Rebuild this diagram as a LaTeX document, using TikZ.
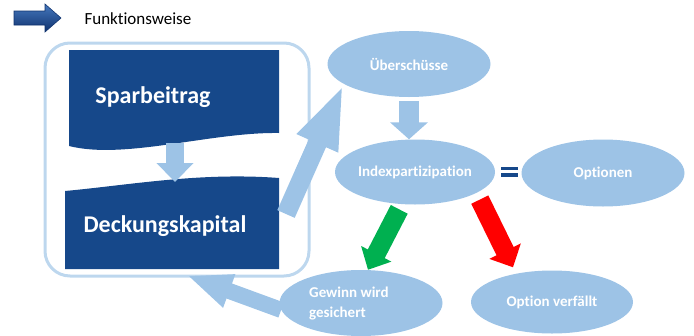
\documentclass[tikz,border=0pt]{standalone}
\usepackage{fontspec}
\setmainfont{Carlito}[Ligatures=NoCommon]
\usetikzlibrary{arrows.meta,shapes.geometric}
\definecolor{boxblue}{RGB}{22,72,138}
\definecolor{ovalblue}{RGB}{157,195,230}
\definecolor{frameblue}{RGB}{189,215,238}
\definecolor{gaingreen}{RGB}{0,176,80}
\definecolor{iconlight}{RGB}{70,120,190}
\definecolor{icondark}{RGB}{15,50,110}
\begin{document}
\begin{tikzpicture}[x=1pt,y=-1pt,
  oval/.style={ellipse, fill=ovalblue, minimum width=163pt, minimum height=66pt,
    inner sep=0pt, inner xsep=-8pt, text=white, font=\bfseries\fontsize{15}{20}\selectfont},
  ovaltext/.style={text=white, align=left, inner sep=0pt, font=\bfseries\fontsize{15}{20}\selectfont},
  bigtext/.style={text=white, font=\bfseries\fontsize{24}{28}\selectfont},
  fat/.style n args={4}{draw=#1, line width=#2, -{Triangle[length=#3,width=#4]}}]
\useasboundingbox (0,0) rectangle (694,335);
% heading
\shade[top color=iconlight, bottom color=icondark, draw=icondark, line width=0.6pt]
  (14,11) -- (45,11) -- (45,4) -- (61,18) -- (45,32) -- (45,25) -- (14,25) -- cycle;
\node[anchor=west, font=\fontsize{17}{20}\selectfont] (title) at (81,19) {Funktionsweise};
% frame with the two blocks
\node[draw=frameblue, line width=3pt, rounded corners=25pt, minimum width=264pt, minimum height=233pt] (frame) at (177,159.5) {};
\fill[boxblue] (69,50) -- (279,50) -- (279,133) .. controls (210,132) and (125,160) .. (69,146) -- cycle;
\fill[boxblue] (65,191) .. controls (130,185) and (200,172) .. (279,178) -- (279,269) -- (65,269) -- cycle;
\node[bigtext] (spar) at (153,97) {Sparbeitrag};
\node[bigtext] (deck) at (165,226) {Deckungskapital};
\coordinate (sparend) at (175,143);
\coordinate (decktop) at (175,182);
\coordinate (deckout) at (286,214);
% ovals
\node[oval] (ub) at (409,64) {Überschüsse};
\node[oval, minimum width=160pt, minimum height=65pt] (idx) at (415,172) {Indexpartizipation};
\node[oval, minimum height=67pt] (opt) at (603,173) {Optionen};
\node[oval] (gew) at (361,303) {};
\node[ovaltext, anchor=west] (gewtxt) at (309,304) {Gewinn wird\\gesichert};
\node[oval, minimum width=162pt, minimum height=63pt] (verf) at (552,302) {Option verfällt};
% equals sign
\fill[boxblue] (501,166.5) rectangle (518,170);
\fill[boxblue] (501,173) rectangle (518,176.5);
% arrows
\draw[fat={ovalblue}{18pt}{19pt}{36pt}] (sparend) -- (decktop);
\draw[fat={ovalblue}{20pt}{17pt}{37pt}] ([yshift=-4pt]ub.south) -- ([xshift=-6pt]idx.north);
\draw[fat={ovalblue}{19pt}{65pt}{40pt}] (deckout) -- (ub.197);
\draw[fat={ovalblue}{16pt}{45pt}{32pt}] (gew.185) -- ([xshift=10pt,yshift=2pt]frame.south);
\draw[fat={gaingreen}{19pt}{18pt}{33pt}] ([xshift=-4pt,yshift=-5pt]idx.250) -- ([xshift=7pt]gew.north);
\draw[fat={red}{19pt}{18pt}{34pt}] ([xshift=12pt,yshift=-3pt]idx.335) -- ([xshift=-39pt,yshift=3pt]verf.north);
\end{tikzpicture}
\end{document}
